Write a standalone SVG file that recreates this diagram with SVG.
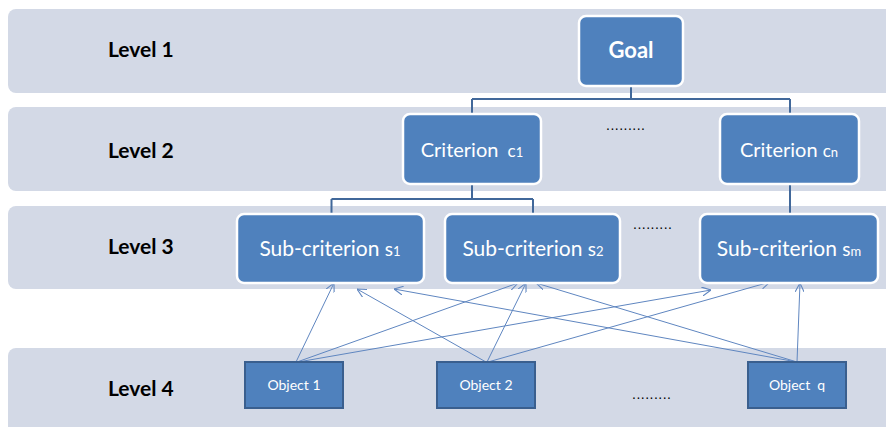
<svg xmlns="http://www.w3.org/2000/svg" width="886" height="427" viewBox="0 0 886 427">
<defs>
<style>
.band{fill:#d3d9e6}
.lvl{font-family:Lato,"Liberation Sans",sans-serif;font-weight:bold;font-size:21px;fill:#000}
.rbox{fill:#4f81bd;stroke:#fff;stroke-width:2.5}
.obox{fill:#4f81bd;stroke:#3a5f8e;stroke-width:2}
.t{font-family:Lato,"Liberation Sans",sans-serif;fill:#fff;text-anchor:middle}
.tree{fill:none;stroke:#41689a;stroke-width:2}
.arr{fill:none;stroke:#5f86c0;stroke-width:1;marker-end:url(#ah)}
.dots{font-family:"Liberation Sans",sans-serif;font-size:14px;fill:#000;letter-spacing:0.5px}
</style>
<marker id="ah" viewBox="0 0 10 10" refX="10" refY="5" markerWidth="9" markerHeight="9" markerUnits="userSpaceOnUse" orient="auto">
<path d="M0,0 L10,5 L0,10" fill="none" stroke="#5f86c0" stroke-width="1.2"/>
</marker>
</defs>
<rect width="886" height="427" fill="#fff"/>
<g id="bands">
<rect class="band" x="8" y="9" width="890" height="84" rx="8"/>
<rect class="band" x="8" y="107" width="890" height="84" rx="8"/>
<rect class="band" x="8" y="206" width="890" height="83" rx="8"/>
<rect class="band" x="8" y="348" width="890" height="90" rx="8"/>
</g>
<g id="labels">
<text class="lvl" x="108" y="57">Level 1</text>
<text class="lvl" x="108" y="158">Level 2</text>
<text class="lvl" x="108" y="254">Level 3</text>
<text class="lvl" x="108" y="396">Level 4</text>
</g>
<g id="connectors">
<path class="tree" d="M631,86 V99 M472,99 H790 M472,99 V114 M790,99 V114"/>
<path class="tree" d="M472,184 V199 M331.5,199 H533 M331.5,199 V214 M533,199 V214 M790,184 V214"/>
<line class="arr" x1="296" y1="362" x2="334" y2="283"/>
<line class="arr" x1="297" y1="362" x2="518" y2="283"/>
<line class="arr" x1="298" y1="362" x2="711" y2="290"/>
<line class="arr" x1="486" y1="362" x2="357" y2="289"/>
<line class="arr" x1="487" y1="362" x2="526" y2="283"/>
<line class="arr" x1="488" y1="362" x2="770" y2="282"/>
<line class="arr" x1="797" y1="362" x2="394" y2="289"/>
<line class="arr" x1="797" y1="362" x2="536" y2="283"/>
<line class="arr" x1="797" y1="362" x2="800" y2="283"/>
</g>
<g id="goal">
<rect class="rbox" x="579" y="16" width="104" height="70" rx="7"/>
<text class="t" x="631" y="58" font-size="22" font-weight="bold">Goal</text>
</g>
<g id="criterion-c1">
<rect class="rbox" x="403" y="114" width="138" height="70" rx="7"/>
<text class="t" x="472" y="157" font-size="20">Criterion <tspan dx="4" font-size="17">c</tspan><tspan font-size="13">1</tspan></text>
</g>
<g id="criterion-cn">
<rect class="rbox" x="720" y="114" width="139" height="70" rx="7"/>
<text class="t" x="789" y="157" font-size="20">Criterion <tspan font-size="17">c</tspan><tspan font-size="13">n</tspan></text>
</g>
<text class="dots" x="606" y="130">.........</text>
<g id="sub-s1">
<rect class="rbox" x="237" y="214" width="187" height="69" rx="7"/>
<text class="t" x="330" y="256" font-size="21">Sub-criterion <tspan font-size="19">s</tspan><tspan font-size="13">1</tspan></text>
</g>
<g id="sub-s2">
<rect class="rbox" x="445" y="214" width="175" height="69" rx="7"/>
<text class="t" x="533" y="256" font-size="21">Sub-criterion <tspan font-size="19">s</tspan><tspan font-size="13">2</tspan></text>
</g>
<g id="sub-sm">
<rect class="rbox" x="700" y="214" width="178" height="69" rx="7"/>
<text class="t" x="789" y="256" font-size="21">Sub-criterion <tspan font-size="19">s</tspan><tspan font-size="13">m</tspan></text>
</g>
<text class="dots" x="633" y="229">.........</text>
<g id="object-1">
<rect class="obox" x="245" y="362" width="98" height="46"/>
<text class="t" x="294" y="390" font-size="14">Object 1</text>
</g>
<g id="object-2">
<rect class="obox" x="437" y="362" width="98" height="46"/>
<text class="t" x="486" y="390" font-size="14">Object 2</text>
</g>
<g id="object-q">
<rect class="obox" x="748" y="362" width="98" height="46"/>
<text class="t" x="797" y="390" font-size="14">Object<tspan dx="7">q</tspan></text>
</g>
<text class="dots" x="632" y="399">.........</text>
</svg>
